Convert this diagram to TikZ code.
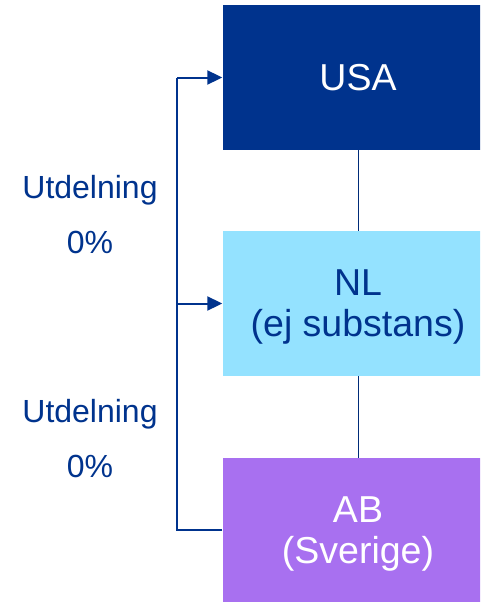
\documentclass[tikz,border=0pt]{standalone}
\usepackage{fontspec}
\setmainfont{Liberation Sans}
\usetikzlibrary{arrows.meta}
\definecolor{usablue}{RGB}{0,51,141}
\definecolor{nlcyan}{RGB}{148,226,255}
\definecolor{abpurple}{RGB}{168,112,240}
\begin{document}
\begin{tikzpicture}[
  x=1pt,y=-1pt,
  entity/.style={
    rectangle,minimum width=271pt,minimum height=145pt,inner sep=0pt,
    align=center,text depth=0pt,font=\fontsize{37.5}{41}\selectfont
  },
  usa/.style={entity,fill=usablue,text=white},
  nl/.style={entity,fill=nlcyan,text=usablue},
  ab/.style={entity,fill=abpurple,text=white,minimum height=144pt},
  link/.style={draw=usablue!85!black,line width=1pt},
  rail/.style={draw=usablue,line width=2pt},
  railarrow/.style={rail,-{Triangle[length=15pt,width=14pt]}},
  payout/.style={align=center,text=usablue,font=\fontsize{32}{55}\selectfont}
]
  \clip (0,0) rectangle (480,602);

  \node[usa] (usa) at (358,77.5) {USA};
  \node[nl] (nl) at (358,303.5) {NL\\(ej substans)};
  \node[ab] (ab) at (358,530) {AB\\(Sverige)};

  \draw[link] (usa.south)--(nl.north);
  \draw[link] (nl.south)--(ab.north);

  % dividend rail on the left
  \coordinate (railtop) at (177,77.5);
  \draw[rail] (ab.west)-|(railtop);
  \draw[railarrow] (railtop)--(usa.west);
  \draw[railarrow] (railtop|-nl.west)--(nl.west);

  \node[payout] (pay1) at (90,215) {Utdelning\\0\%};
  \node[payout] (pay2) at (90,439) {Utdelning\\0\%};
\end{tikzpicture}
\end{document}
